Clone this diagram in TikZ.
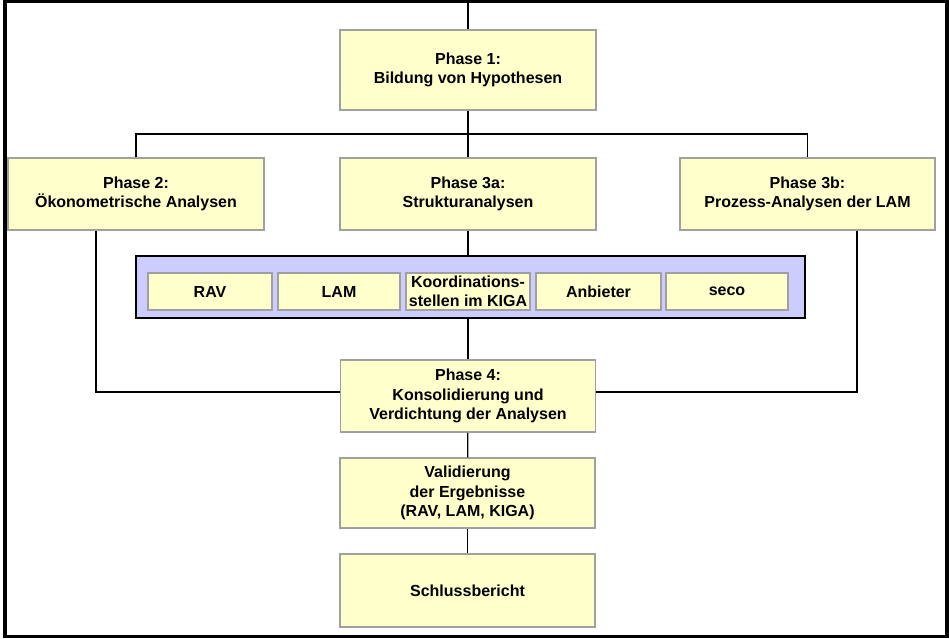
\documentclass[tikz,border=0pt]{standalone}
\usepackage{fontspec}
\setmainfont{Liberation Sans}
\definecolor{boxfill}{RGB}{255,255,204}
\definecolor{bandfill}{RGB}{204,204,255}
\definecolor{boxline}{RGB}{160,160,160}
\begin{document}
\begin{tikzpicture}[x=1pt, y=-1pt,
    phase/.style={draw=boxline, line width=1.5pt, fill=boxfill, minimum width=256pt,
      minimum height=72pt, inner sep=0pt, align=center,
      font=\fontsize{16}{19.5}\selectfont\bfseries},
    unit/.style={phase, minimum width=124pt, minimum height=37pt},
    band/.style={draw=black, line width=2pt, fill=bandfill, minimum width=669pt,
      minimum height=62pt, inner sep=0pt},
    link/.style={line width=1.3pt}]
    \useasboundingbox (0,0) rectangle (949,638);
    \draw[line width=3.5pt] (5.2,1.5) rectangle (947,636.3);
    \coordinate (top) at (468,0);
    \coordinate (split) at (468,134);
    \node[phase, minimum height=80pt] (p1) at (468,70) {Phase 1:\\Bildung von Hypothesen};
    \node[phase] (p2) at (136,194) {Phase 2:\\Ökonometrische Analysen};
    \node[phase] (p3a) at (468,194) {Phase 3a:\\Strukturanalysen};
    \node[phase, minimum width=255pt] (p3b) at (807.5,194) {Phase 3b:\\Prozess-Analysen der LAM};
    \node[band] (bd) at (470.5,287) {};
    \node[unit] (rav) at (210,291.5) {RAV};
    \node[unit, minimum width=122pt] (lam) at (339,291.5) {LAM};
    \node[unit] (koord) at (468,291.5) {Koordinations-\\stellen im KIGA};
    \node[unit, minimum width=125pt] (anb) at (598.5,291.5) {Anbieter};
    \node[unit, minimum width=122pt] (seco) at (727,291.5) {seco};
    \node[phase, minimum width=255pt] (p4) at (468,396) {Phase 4:\\Konsolidierung und\\Verdichtung der Analysen};
    \node[phase, minimum width=255pt, minimum height=70pt] (val) at (467.5,493) {Validierung\\der Ergebnisse\\(RAV, LAM, KIGA)};
    \node[phase, minimum width=255pt, minimum height=73pt] (sb) at (467.5,590.5) {Schlussbericht};
    \draw[link] (top) -- (p1);
    \draw[link] (p1) -- (split);
    \draw[link] (p2.north) |- (split) -| (p3b.north);
    \draw[link] (split) -- (p3a);
    \draw[link] (p3a) -- (p3a |- bd.north);
    \draw[link] (bd.south -| p4) -- (p4);
    \draw[link] ([xshift=-40pt]p2.south) |- ([yshift=4pt]p4.west);
    \draw[link] ([xshift=49.5pt]p3b.south) |- ([yshift=4pt]p4.east);
    \draw[link] (p4) -- (val);
    \draw[link] (val) -- (sb);
\end{tikzpicture}
\end{document}
